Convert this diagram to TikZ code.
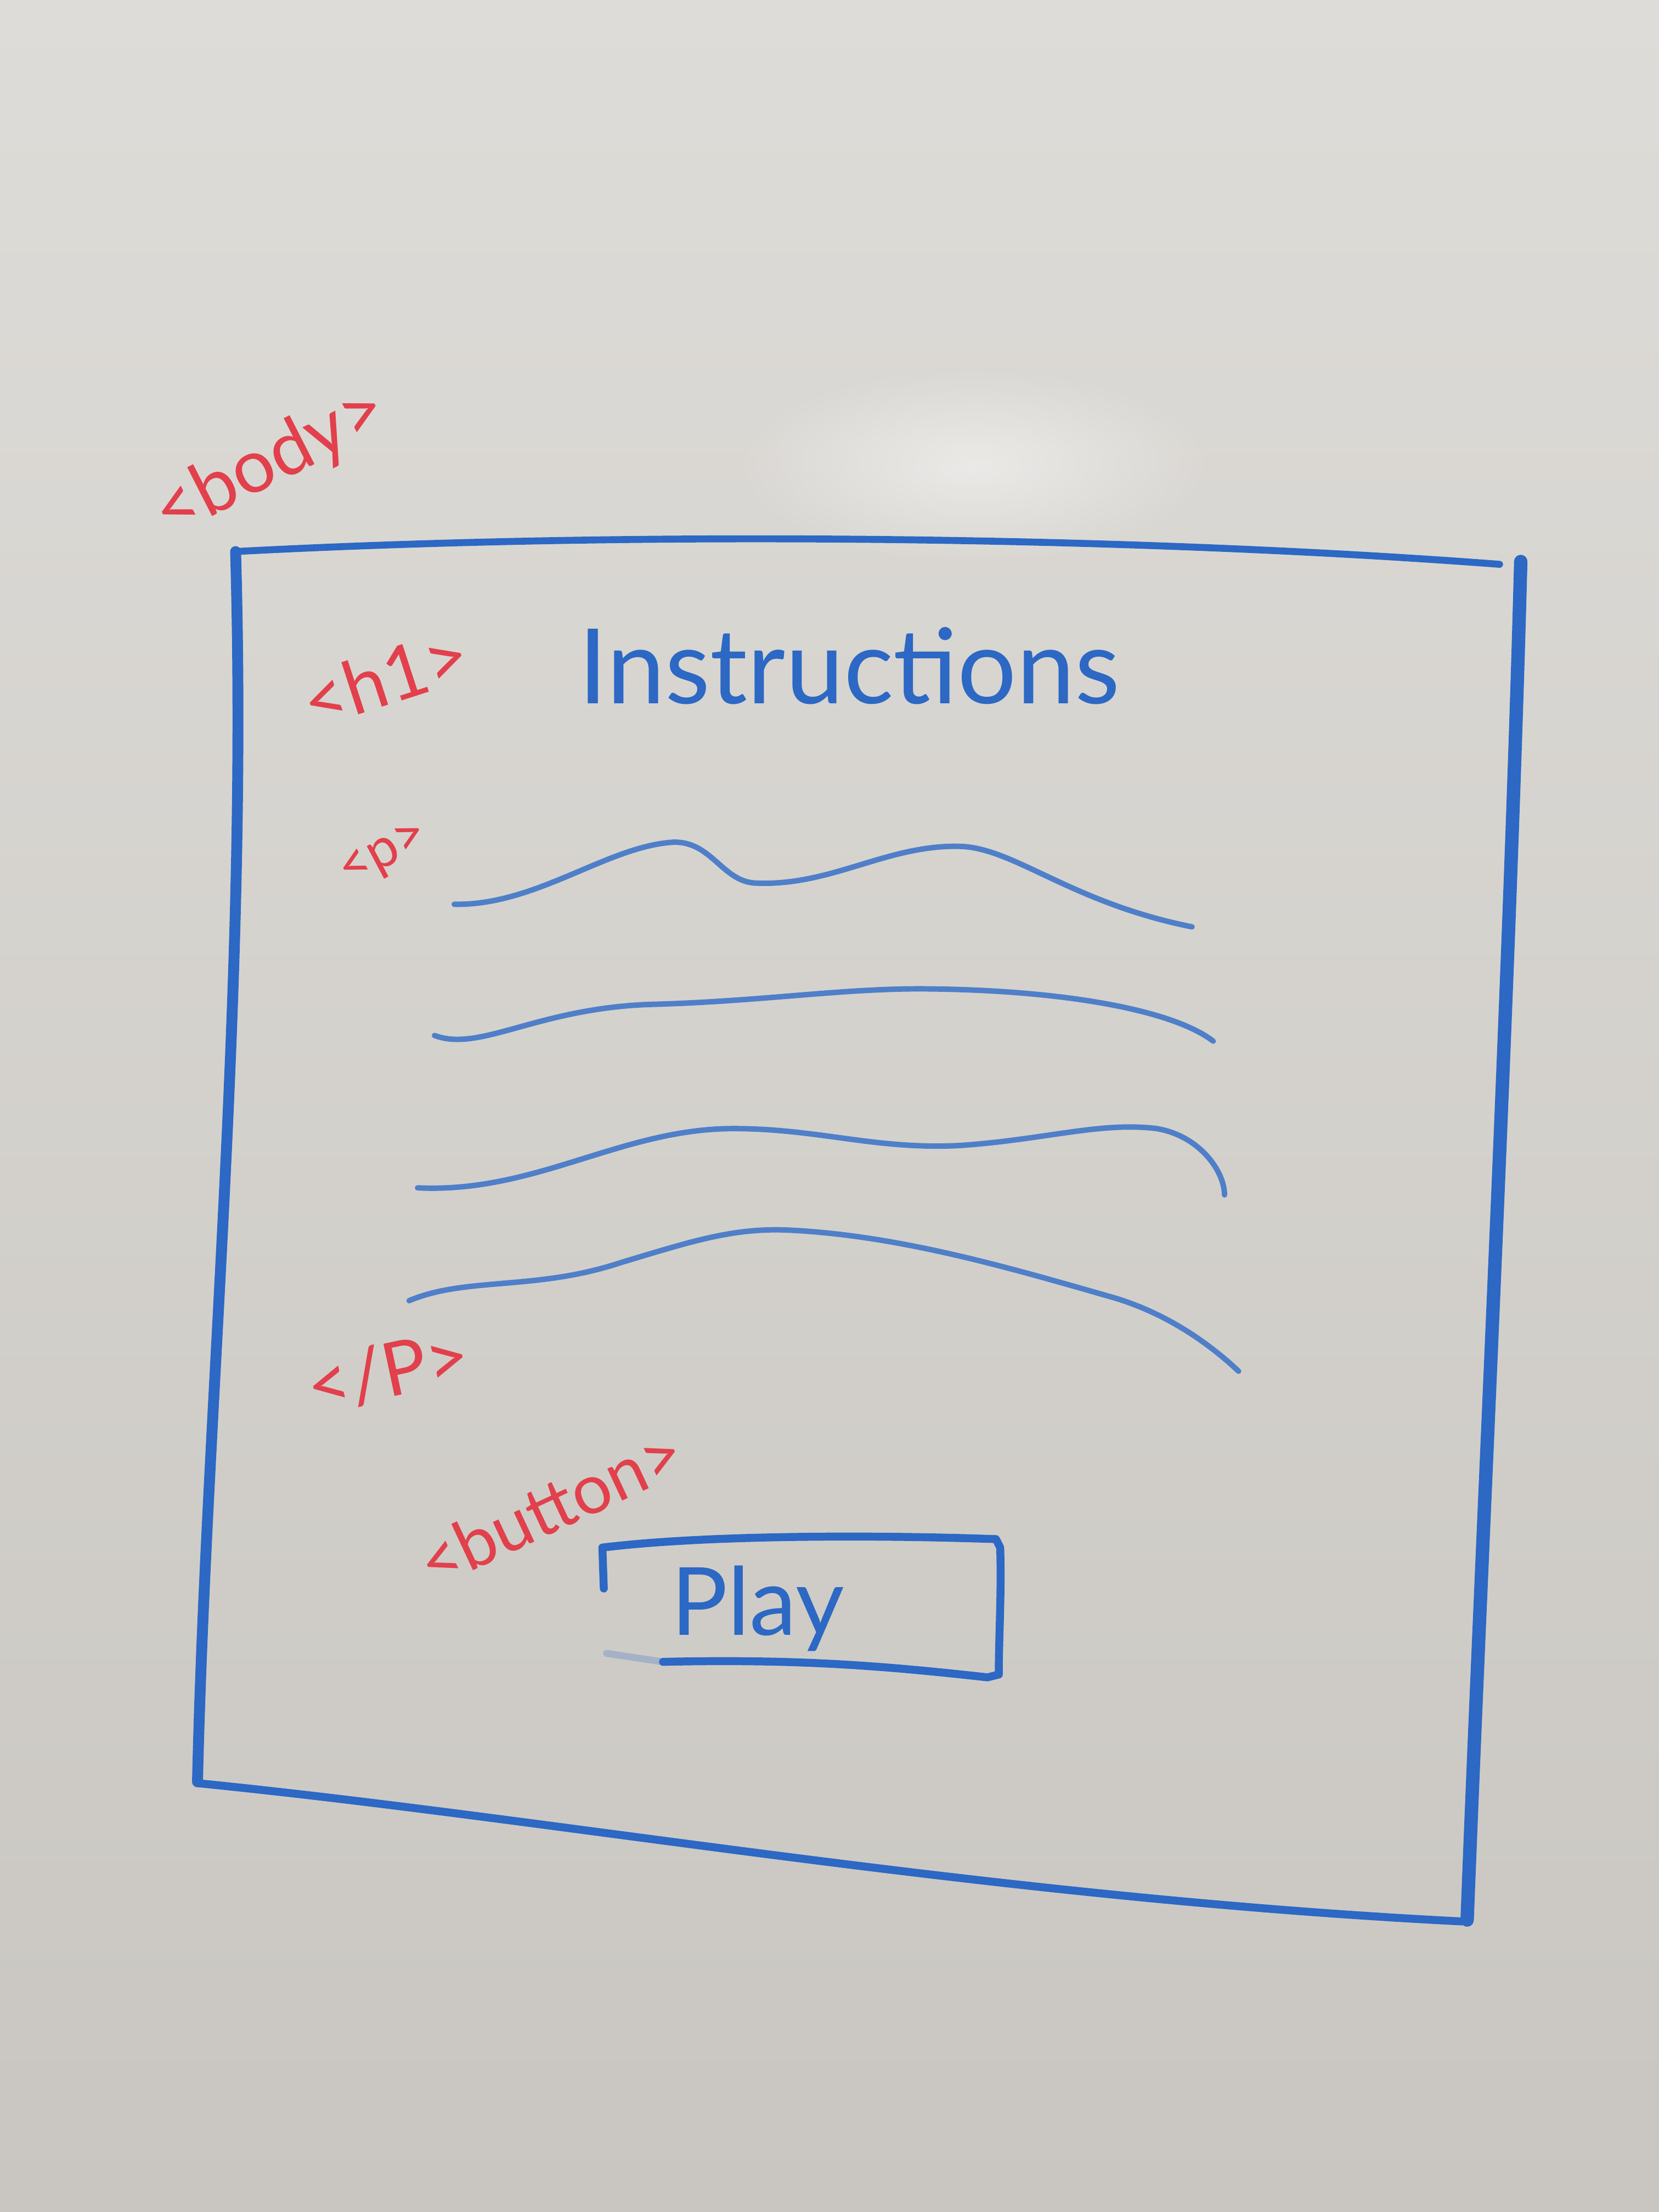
\documentclass[tikz,border=0pt]{standalone}
\usepackage{fontspec}
\setmainfont{Lato}
\usetikzlibrary{fadings}

\definecolor{boardtop}{HTML}{DEDCD8}
\definecolor{boardlow}{HTML}{C9C6C1}
\definecolor{marker}{HTML}{2C68C4}
\definecolor{markerlight}{HTML}{4F7FC8}
\definecolor{redmarker}{HTML}{E2404C}

\tikzfading[name=glow, inner color=transparent!15, outer color=transparent!100]

\begin{document}
\begin{tikzpicture}[x=0.01cm, y=-0.01cm,
  pen/.style={marker, line width=#1, line cap=round, line join=round},
  pen/.default=1.5pt,
  wave/.style={markerlight, line width=1.1pt, line cap=round, line join=round},
  tag/.style={text=redmarker, inner sep=0pt, font=\fontsize{#1}{#1}\selectfont},
  tag/.default=14,
  ink/.style={text=marker, inner sep=0pt, font=\fontsize{#1}{#1}\selectfont},
]
% whiteboard surface
\useasboundingbox (0,0) rectangle (1176,1568);
\shade[top color=boardtop, bottom color=boardlow] (0,0) rectangle (1176,1568);
\fill[white, path fading=glow, opacity=0.55] (690,330) ellipse [x radius=170, y radius=70];

% page frame
\draw[pen=1.4pt] (166,391) .. controls (450,376) and (800,380) .. (1063,400);
\draw[pen=2.7pt] (1078,398) .. controls (1070,700) and (1050,1100) .. (1040,1361);
\draw[pen=2.2pt] (167,391) .. controls (176,700) and (146,1000) .. (140,1263);
\draw[pen=1.6pt] (140,1264) .. controls (400,1290) and (700,1345) .. (1036,1362);

% heading
\node[ink=21] (title) at (602,472) {Instructions};

% paragraph scribbles
\draw[wave] (322,641) .. controls (380,642) and (430,600) .. (477,597)
  .. controls (505,596) and (512,626) .. (537,626)
  .. controls (590,628) and (630,598) .. (682,600)
  .. controls (720,602) and (760,640) .. (845,657);
\draw[wave] (308,734) .. controls (340,746) and (380,715) .. (460,712)
  .. controls (540,710) and (600,700) .. (660,701)
  .. controls (750,702) and (830,715) .. (860,738);
\draw[wave] (296,842) .. controls (380,846) and (440,800) .. (520,800)
  .. controls (580,800) and (620,815) .. (680,812)
  .. controls (740,808) and (780,795) .. (820,800)
  .. controls (850,805) and (868,830) .. (868,847);
\draw[wave] (290,922) .. controls (330,905) and (380,915) .. (440,895)
  .. controls (490,880) and (520,870) .. (560,872)
  .. controls (640,876) and (720,900) .. (790,920)
  .. controls (830,932) and (860,955) .. (878,972);

% button
\draw[pen=1.6pt] (428,1126) -- (427,1097) .. controls (500,1088) and (620,1088) .. (706,1091)
  -- (709,1097) .. controls (710,1130) and (708,1160) .. (708,1187)
  -- (700,1189) .. controls (620,1180) and (560,1176) .. (470,1178);
\draw[pen=1.4pt, opacity=0.25] (470,1178) -- (430,1172);
\node[ink=19] (play) at (537,1140) {Play};

% element tags
\node[tag=15, rotate=27] (body) at (192,328) {<body>};
\node[tag=15, rotate=18] (h1) at (273,480) {<h1>};
\node[tag=11, rotate=28] (popen) at (273,607) {<p>};
\node[tag=15, rotate=12] (pclose) at (275,972) {</P>};
\node[tag=14, rotate=25] (button) at (390,1068) {<button>};
\end{tikzpicture}
\end{document}
